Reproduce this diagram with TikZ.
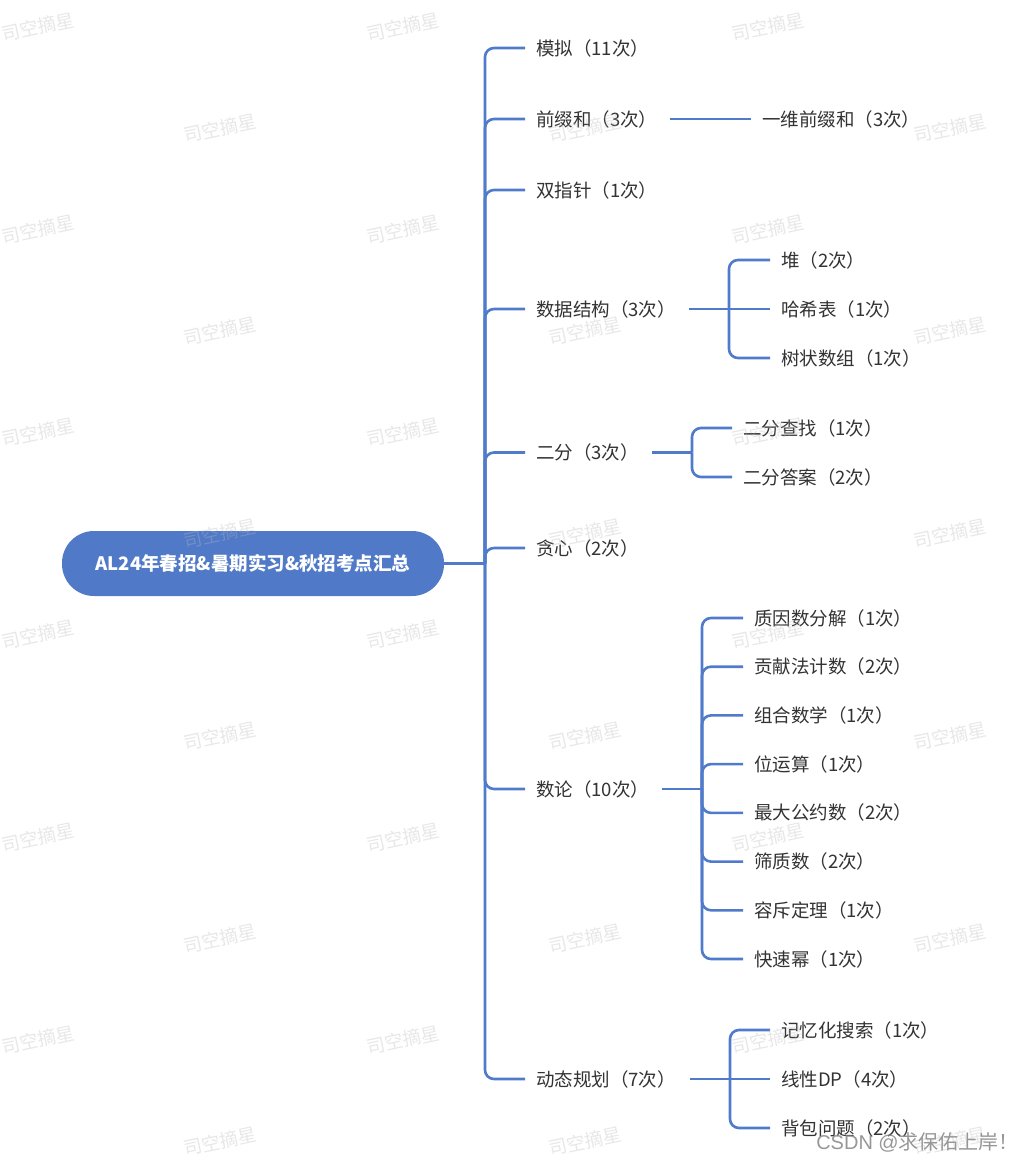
\documentclass[tikz,border=0pt]{standalone}
\usepackage{fontspec}
\setmainfont{Noto Sans CJK SC}
\newfontfamily\latfont{Liberation Sans}
\definecolor{mblue}{RGB}{80,122,202}
\definecolor{rootblue}{RGB}{80,121,200}
\definecolor{txt}{RGB}{51,51,51}
\definecolor{wm}{RGB}{185,185,185}
\definecolor{csdn}{RGB}{140,140,140}
\begin{document}
\begin{tikzpicture}[x=1pt,y=-1pt,
 conn/.style={draw=mblue,line width=2.6pt,rounded corners=9pt},
 topic/.style={anchor=west,inner xsep=11pt,inner ysep=1pt,text=txt,font=\fontsize{18.5}{22}\selectfont},
 rootnode/.style={fill=rootblue,rounded corners=32pt,minimum width=382pt,minimum height=65pt,text=white,font=\bfseries\fontsize{18.5}{22}\selectfont,inner sep=0pt},
 wmark/.style={text=wm,opacity=0.33,rotate=12,inner sep=0pt,font=\fontsize{18.5}{20}\selectfont},
]
\useasboundingbox (0,0) rectangle (1020,1162);
\fill[white] (0,0) rectangle (1020,1162);

% root
\node[rootnode] (root) at (253,563.5) {AL24年春招\&暑期实习\&秋招考点汇总};
\coordinate (J0) at (485,563.5);
\draw[conn] (root.east) -- (J0);

% main topics
\node[topic] (mn) at (525,48) {模拟（11次）};
\node[topic] (qz) at (525,119) {前缀和（3次）};
\node[topic] (sz) at (525,190) {双指针（1次）};
\node[topic] (ds) at (525,309) {数据结构（3次）};
\node[topic] (ef) at (525,452.5) {二分（3次）};
\node[topic] (tx) at (525,548) {贪心（2次）};
\node[topic] (sl) at (525,789) {数论（10次）};
\node[topic] (dp) at (525,1079) {动态规划（7次）};
\foreach \c in {mn,qz,sz,ds,ef,tx,sl,dp} {\draw[conn] (J0) |- (\c.west);}

% prefix sum
\coordinate (qzout) at (670,119);
\node[topic] (yw) at (751,119) {一维前缀和（3次）};
\draw[conn] (qzout) -- (yw.west);

% data structures
\coordinate (dsout) at (689,309);
\coordinate (Jds) at (729,309);
\draw[conn] (dsout) -- (Jds);
\node[topic] (dui) at (770,260) {堆（2次）};
\node[topic] (hx) at (770,309) {哈希表（1次）};
\node[topic] (sz2) at (770,358) {树状数组（1次）};
\draw[conn] (Jds) |- (dui.west);
\draw[conn] (Jds) -- (hx.west);
\draw[conn] (Jds) |- (sz2.west);

% binary search
\coordinate (efout) at (652,452.5);
\coordinate (Jef) at (692,452.5);
\draw[conn] (efout) -- (Jef);
\node[topic] (efcz) at (732,428) {二分查找（1次）};
\node[topic] (efda) at (732,477) {二分答案（2次）};
\draw[conn] (Jef) |- (efcz.west);
\draw[conn] (Jef) |- (efda.west);

% number theory
\coordinate (slout) at (662,789);
\coordinate (Jsl) at (702,789);
\draw[conn] (slout) -- (Jsl);
\node[topic] (n1) at (743,618) {质因数分解（1次）};
\node[topic] (n2) at (743,666.7) {贡献法计数（2次）};
\node[topic] (n3) at (743,715.4) {组合数学（1次）};
\node[topic] (n4) at (743,764.1) {位运算（1次）};
\node[topic] (n5) at (743,812.9) {最大公约数（2次）};
\node[topic] (n6) at (743,861.6) {筛质数（2次）};
\node[topic] (n7) at (743,910.3) {容斥定理（1次）};
\node[topic] (n8) at (743,959) {快速幂（1次）};
\foreach \c in {n1,n2,n3,n4,n5,n6,n7,n8} {\draw[conn] (Jsl) |- (\c.west);}

% dynamic programming
\coordinate (dpout) at (690,1079);
\coordinate (Jdp) at (730,1079);
\draw[conn] (dpout) -- (Jdp);
\node[topic] (d1) at (770,1030) {记忆化搜索（1次）};
\node[topic] (d2) at (770,1079) {线性DP（4次）};
\node[topic] (d3) at (770,1128) {背包问题（2次）};
\draw[conn] (Jdp) |- (d1.west);
\draw[conn] (Jdp) -- (d2.west);
\draw[conn] (Jdp) |- (d3.west);

% watermarks
\foreach \k in {0,2,...,10} {\foreach \x in {38,403,768} {\node[wmark] (wm\k-\x) at (\x,{27+101.3*\k}) {司空摘星};}}
\foreach \k in {1,3,...,11} {\foreach \x in {220,585,950} {\node[wmark] (wm\k-\x) at (\x,{27+101.3*\k}) {司空摘星};}}

\node[anchor=east,inner sep=0pt,text=csdn,opacity=0.9,font=\fontsize{20}{22}\selectfont] (csdnmark) at (1019,1142) {{\latfont CSDN @}求保佑上岸！};
\end{tikzpicture}
\end{document}
